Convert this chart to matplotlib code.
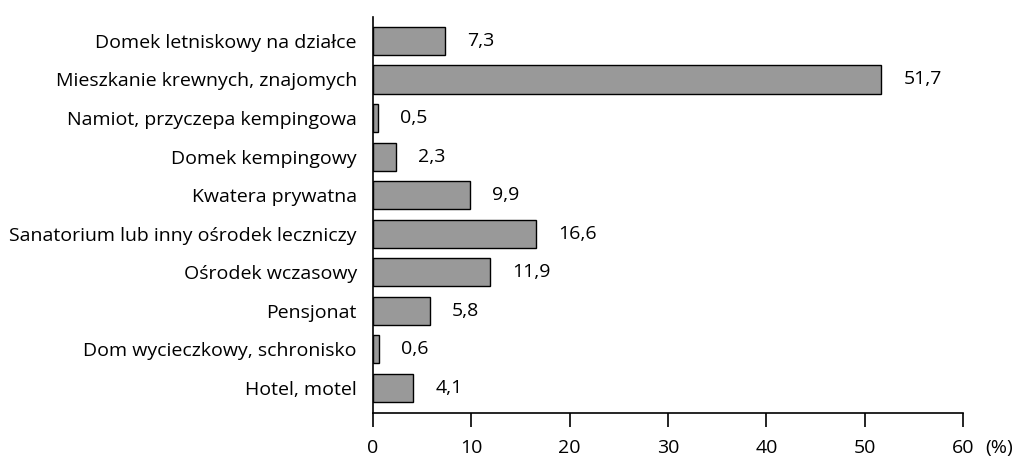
import matplotlib
matplotlib.use("Agg")
import matplotlib.pyplot as plt

# categories from bottom to top
categories = [
    "Hotel, motel",
    "Dom wycieczkowy, schronisko",
    "Pensjonat",
    "Ośrodek wczasowy",
    "Sanatorium lub inny ośrodek leczniczy",
    "Kwatera prywatna",
    "Domek kempingowy",
    "Namiot, przyczepa kempingowa",
    "Mieszkanie krewnych, znajomych",
    "Domek letniskowy na działce",
]
values = [4.1, 0.6, 5.8, 11.9, 16.6, 9.9, 2.3, 0.5, 51.7, 7.3]
x_ticks = [0, 10, 20, 30, 40, 50, 60]

plt.rcParams["font.family"] = ["Open Sans", "DejaVu Sans"]
fs = 14

fig = plt.figure(figsize=(10.3, 4.57), dpi=100)
ax = fig.add_axes([0.3621, 0.0963, 0.5729, 0.8665])

pos = list(range(len(categories)))
ax.barh(pos, values, height=0.73, color="#999999", edgecolor="black", linewidth=1.0)

# value labels with decimal comma
for y, v in zip(pos, values):
    ax.annotate(f"{v:.1f}".replace(".", ","), (v, y), xytext=(22, 0),
                textcoords="offset pixels", va="center", ha="left", fontsize=fs)

ax.set_xlim(0, 60)
ax.set_ylim(-0.65, 9.62)
ax.set_yticks(pos)
ax.set_yticklabels(categories, fontsize=fs)
ax.set_xticks(x_ticks)
ax.set_xticklabels([str(t) for t in x_ticks], fontsize=fs)

ax.tick_params(axis="y", length=0, pad=11.5)
ax.tick_params(axis="x", length=10, width=1.2, direction="out", pad=8.5)

ax.spines["top"].set_visible(False)
ax.spines["right"].set_visible(False)
ax.spines["left"].set_linewidth(1.2)
ax.spines["bottom"].set_linewidth(1.2)

# unit label to the right of the last tick
ax.annotate("(%)", (1, 0), xycoords="axes fraction", xytext=(22, -26),
            textcoords="offset pixels", fontsize=fs, ha="left", va="top")

fig.savefig("out.png", dpi=100)
